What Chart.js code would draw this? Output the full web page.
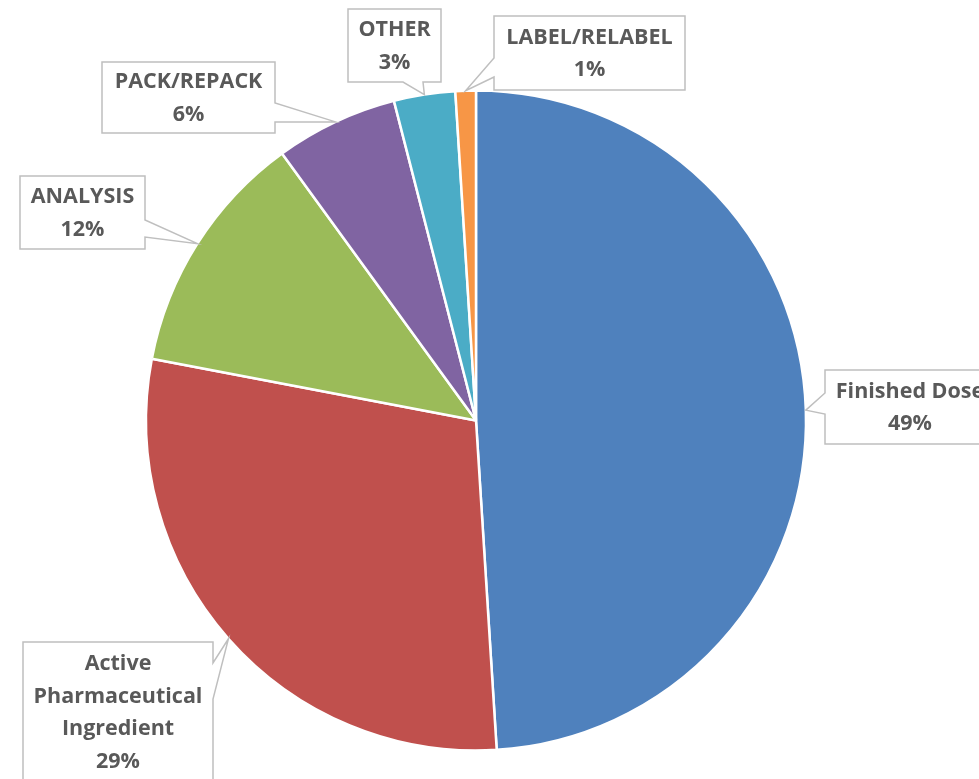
<!DOCTYPE html>
<html>
<head>
<meta charset="utf-8">
<script src="https://cdn.jsdelivr.net/npm/chart.js@4.4.1/dist/chart.umd.min.js"></script>
<style>
  html, body { margin: 0; padding: 0; background: #fff; }
  #wrap { width: 979px; height: 779px; }
</style>
</head>
<body>
<div id="wrap"><canvas id="shareChart" width="979" height="779"></canvas></div>
<script>
// Share of registered activity types
const categories = ['Finished Dose', 'Active Pharmaceutical Ingredient', 'ANALYSIS', 'PACK/REPACK', 'OTHER', 'LABEL/RELABEL'];
const shares = [49, 29, 12, 6, 3, 1];
const sliceColors = ['#4F81BD', '#C0504D', '#9BBB59', '#8064A2', '#4BACC6', '#F79646'];

// label text lines per slice (name wrapped like the callout boxes)
const labelLines = [
    ['Finished Dose'],
    ['Active', 'Pharmaceutical', 'Ingredient'],
    ['ANALYSIS'],
    ['PACK/REPACK'],
    ['OTHER'],
    ['LABEL/RELABEL']
];

// callout boxes: rect + which side the pointer leaves from (base = offsets along that side)
const callouts = [
    { x: 825, y: 370, w: 170, h: 74, side: 'left', base: [23, 44] },
    { x: 23, y: 642, w: 190, h: 140, side: 'right', base: [21, 57] },
    { x: 20, y: 176, w: 125, h: 73, side: 'right', base: [44, 61] },
    { x: 102, y: 62, w: 173, h: 71, side: 'right', base: [41, 60] },
    { x: 348, y: 9, w: 93, h: 73, side: 'bottom', base: [55, 75] },
    { x: 494, y: 16, w: 191, h: 74, side: 'left', base: [42, 61] }
];

const calloutPlugin = {
    id: 'callouts',
    afterDatasetsDraw(chart) {
        const ctx = chart.ctx;
        const arcs = chart.getDatasetMeta(0).data;
        arcs.forEach((arc, i) => {
            const c = callouts[i];
            const p = arc.getProps(['x', 'y', 'startAngle', 'endAngle', 'outerRadius'], true);
            const mid = (p.startAngle + p.endAngle) / 2;
            const tx = p.x + Math.cos(mid) * p.outerRadius;
            const ty = p.y + Math.sin(mid) * p.outerRadius;

            ctx.save();
            ctx.beginPath();
            ctx.moveTo(c.x, c.y);
            ctx.lineTo(c.x + c.w, c.y);
            if (c.side === 'right') {
                ctx.lineTo(c.x + c.w, c.y + c.base[0]);
                ctx.lineTo(tx, ty);
                ctx.lineTo(c.x + c.w, c.y + c.base[1]);
            }
            ctx.lineTo(c.x + c.w, c.y + c.h);
            if (c.side === 'bottom') {
                ctx.lineTo(c.x + c.base[1], c.y + c.h);
                ctx.lineTo(tx, ty);
                ctx.lineTo(c.x + c.base[0], c.y + c.h);
            }
            ctx.lineTo(c.x, c.y + c.h);
            if (c.side === 'left') {
                ctx.lineTo(c.x, c.y + c.base[1]);
                ctx.lineTo(tx, ty);
                ctx.lineTo(c.x, c.y + c.base[0]);
            }
            ctx.closePath();
            ctx.fillStyle = '#ffffff';
            ctx.fill();
            ctx.lineWidth = 1.5;
            ctx.strokeStyle = '#BFBFBF';
            ctx.stroke();

            const lines = labelLines[i].concat([shares[i] + '%']);
            const lh = 32.5;
            const cy = c.y + c.h / 2;
            const cx = c.x + c.w / 2;
            ctx.fillStyle = '#595959';
            ctx.font = 'bold 21.5px "Open Sans", "DejaVu Sans", sans-serif';
            ctx.textAlign = 'center';
            ctx.textBaseline = 'middle';
            lines.forEach((t, k) => {
                ctx.fillText(t, cx, cy + 1 + (k - (lines.length - 1) / 2) * lh);
            });
            ctx.restore();
        });
    }
};

const ctx = document.getElementById('shareChart').getContext('2d');
const shareChart = new Chart(ctx, {
    type: 'pie',
    data: {
        labels: categories,
        datasets: [{
            data: shares,
            backgroundColor: sliceColors,
            borderColor: '#ffffff',
            borderWidth: 2.5,
            hoverOffset: 0
        }]
    },
    options: {
        responsive: false,
        animation: false,
        radius: 330,
        layout: {
            padding: { left: 146, right: 173, top: 90, bottom: 28 }
        },
        plugins: {
            legend: { display: false },
            tooltip: { enabled: false }
        }
    },
    plugins: [calloutPlugin]
});
</script>
</body>
</html>
